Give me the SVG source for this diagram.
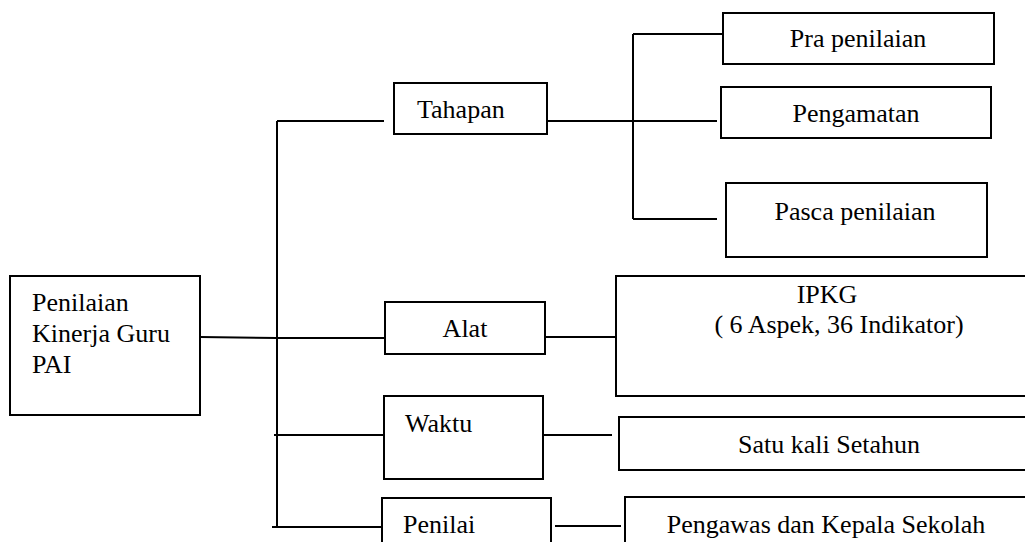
<svg xmlns="http://www.w3.org/2000/svg" width="1025" height="542" viewBox="0 0 1025 542">
<style>
.box{fill:#fff;stroke:#000;stroke-width:2}
.ln{fill:none;stroke:#000;stroke-width:2}
.c{text-anchor:middle}
</style>
<rect width="1025" height="542" fill="#fff"/>
<g id="connectors">
<path class="ln" d="M200,337 L277,338"/>
<path class="ln" d="M277,121 L277,527"/>
<path class="ln" d="M277,121 L384,121"/>
<path class="ln" d="M277,338 L384,338"/>
<path class="ln" d="M274,435 L384,435"/>
<path class="ln" d="M272,527 L382,527"/>
<path class="ln" d="M545,121 L717,121"/>
<path class="ln" d="M633,34 L633,219"/>
<path class="ln" d="M633,34 L722,34"/>
<path class="ln" d="M633,219 L717,219"/>
<path class="ln" d="M543,337 L616,337"/>
<path class="ln" d="M541,435 L612,435"/>
<path class="ln" d="M555,526 L621,526"/>
</g>
<g font-family="Liberation Serif, 'Times New Roman', 'DejaVu Serif', serif" font-size="26" fill="#000">
<g id="main">
<rect class="box" x="10" y="276" width="190" height="139"/>
<text x="32" y="311">Penilaian</text>
<text x="32" y="342">Kinerja Guru</text>
<text x="32" y="373">PAI</text>
</g>
<g id="tahapan">
<rect class="box" x="394" y="83" width="153" height="51"/>
<text x="417" y="118">Tahapan</text>
</g>
<g id="pra">
<rect class="box" x="723" y="13" width="271" height="51"/>
<text class="c" x="858" y="47">Pra penilaian</text>
</g>
<g id="pengamatan">
<rect class="box" x="721" y="87" width="270" height="51"/>
<text class="c" x="856" y="122">Pengamatan</text>
</g>
<g id="pasca">
<rect class="box" x="726" y="183" width="261" height="74"/>
<text class="c" x="855" y="220">Pasca penilaian</text>
</g>
<g id="alat">
<rect class="box" x="385" y="302" width="160" height="52"/>
<text class="c" x="465" y="337">Alat</text>
</g>
<g id="ipkg">
<rect class="box" x="616" y="276" width="414" height="120"/>
<text class="c" x="827" y="303">IPKG</text>
<text class="c" x="839" y="333">( 6 Aspek, 36 Indikator)</text>
</g>
<g id="waktu">
<rect class="box" x="384" y="396" width="159" height="83"/>
<text x="405" y="432">Waktu</text>
</g>
<g id="satu">
<rect class="box" x="619" y="417" width="411" height="53"/>
<text class="c" x="829" y="453">Satu kali Setahun</text>
</g>
<g id="penilai">
<rect class="box" x="382" y="498" width="169" height="60"/>
<text x="403" y="533">Penilai</text>
</g>
<g id="pengawas">
<rect class="box" x="625" y="497" width="405" height="60"/>
<text class="c" x="826" y="533">Pengawas dan Kepala Sekolah</text>
</g>
</g>
</svg>
